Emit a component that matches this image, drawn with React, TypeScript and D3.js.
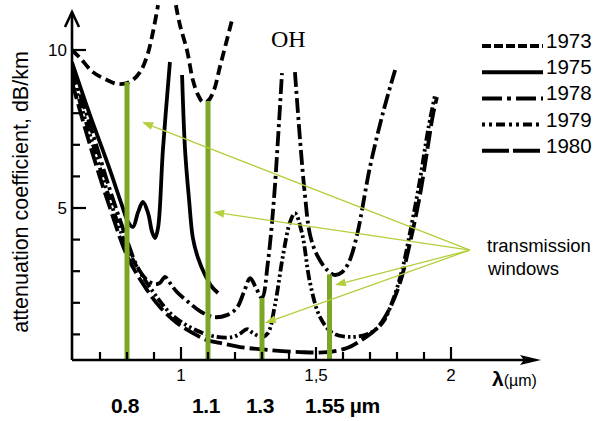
import React from "react";
import * as d3 from "d3";

type P = [number, number] | null;

// wavelength (µm), attenuation (dB/km); null = break in the drawn line
const s1973: P[] = [
  [0.596, 10.0], [0.626, 9.75], [0.674, 9.3], [0.726, 9.05], [0.767, 8.92], [0.811, 8.99],
  [0.848, 9.3], [0.878, 9.91], [0.915, 11.42], null,
  [0.981, 11.42], [0.996, 10.79], [1.022, 10.0], [1.044, 9.05], [1.063, 8.58], [1.081, 8.35],
  [1.1, 8.39], [1.122, 8.73], [1.144, 9.46], [1.167, 10.22], [1.189, 10.95],
];
const s1975: P[] = [
  [0.596, 9.62], [0.663, 7.94], [0.737, 6.2], [0.781, 5.09], [0.804, 4.56], [0.822, 4.4],
  [0.841, 4.87], [0.859, 5.19], [0.878, 4.84], [0.893, 4.24], [0.904, 4.05], [0.915, 4.37],
  [0.933, 6.84], [0.959, 9.62], null,
  [1.004, 9.21], [1.015, 6.84], [1.03, 5.25], [1.044, 4.05], [1.063, 3.42], [1.089, 2.88],
  [1.115, 2.5], [1.137, 2.31],
];
const s1978: P[] = [
  [0.596, 9.37], [0.663, 7.63], [0.737, 5.57], [0.804, 3.89], [0.837, 3.16], [0.874, 2.72],
  [0.904, 2.59], [0.922, 2.63], [0.941, 2.82], [0.959, 2.63], [0.985, 2.34], [1.022, 2.06],
  [1.07, 1.74], [1.119, 1.55], [1.17, 1.61], [1.207, 1.84], [1.233, 2.34], [1.256, 2.78],
  [1.278, 2.47], [1.3, 2.15], [1.322, 3.29], [1.344, 5.25], [1.359, 7.15], [1.374, 9.27], null,
  [1.422, 9.3], [1.441, 7.15], [1.459, 5.41], [1.478, 4.15], [1.504, 3.51], [1.541, 3.04],
  [1.57, 2.88], [1.596, 2.97], [1.622, 3.29], [1.652, 4.15], [1.7, 6.3], [1.748, 8.01], [1.793, 9.37],
];
const s1979: P[] = [
  [0.596, 9.18], [0.663, 7.31], [0.737, 5.25], [0.804, 3.67], [0.859, 2.82], [0.911, 2.18],
  [0.959, 1.68], [1.007, 1.36], [1.07, 1.08], [1.133, 0.92], [1.193, 0.92], [1.222, 1.04],
  [1.244, 1.17], [1.267, 1.04], [1.3, 0.92], [1.322, 1.04], [1.348, 1.93], [1.378, 3.51],
  [1.404, 4.56], [1.422, 4.84], [1.448, 4.21], [1.478, 2.63], [1.515, 1.55], [1.563, 1.04],
  [1.637, 0.92], [1.7, 1.04], [1.748, 1.39], [1.785, 2.09], [1.819, 3.04], [1.848, 4.21],
  [1.885, 5.89], [1.915, 7.47], [1.941, 8.58],
];
const s1980: P[] = [
  [0.596, 8.99], [0.663, 6.99], [0.737, 5.0], [0.804, 3.42], [0.874, 2.41], [0.922, 1.87],
  [0.985, 1.36], [1.044, 1.04], [1.096, 0.82], [1.144, 0.73], [1.219, 0.6], [1.319, 0.51],
  [1.441, 0.44], [1.541, 0.44], [1.615, 0.57], [1.663, 0.79], [1.726, 1.2], [1.774, 1.84],
  [1.811, 2.63], [1.848, 3.89], [1.885, 5.41], [1.915, 6.99], [1.933, 7.94], [1.948, 8.51],
];

const years = ["1973", "1975", "1978", "1979", "1980"];
const seriesList = [s1973, s1975, s1978, s1979, s1980];
const dashPlot = ["10,5", "", "15,4,3,4", "10,3,2.5,3,2.5,3", "18,5"];
const dashLegend = ["9,3", "", "20,5,4,5", "3,4,3,4,9,4", "27,4"];

const xMinorTicks = [0.7, 0.8, 0.9, 1.0, 1.1, 1.2, 1.3, 1.4, 1.5, 1.6, 1.7, 1.8, 1.9, 2.0];
const xMajor = [1.0, 1.5, 2.0];
const xLabels = ["1", "1,5", "2"];
const yTicks = [1, 2, 3, 4, 5, 6, 7, 8, 9, 10];
const yMajor = [5, 10];
const yLabels = ["5", "10"];

const windows = [0.8, 1.1, 1.3, 1.55];
const windowTops = [8.99, 8.39, 2.15, 2.9];
const windowLabels = ["0.8", "1.1", "1.3", "1.55 µm"];

const arrowFrom: [number, number] = [2.07, 3.67];
const arrowTargets: [number, number][] = [
  [0.856, 7.72], [1.119, 4.87], [1.57, 2.56], [1.311, 1.36],
];

const W = 601, H = 421;
const ox = 72, oy = 360;

export default function App() {
  const x = d3.scaleLinear().domain([0.6, 2.0]).range([73, 451]);
  const y = d3.scaleLinear().domain([0, 10]).range([366, 50]);
  const line = d3
    .line<P>()
    .defined((d) => d !== null)
    .x((d) => x((d as [number, number])[0]))
    .y((d) => y((d as [number, number])[1]))
    .curve(d3.curveCatmullRom.alpha(0.5));

  const green = "#7ca626";
  const arrowCol = "#b2cf3c";
  const sans = "'Liberation Sans', Arial, sans-serif";

  return (
    <svg
      width={W}
      height={H}
      viewBox={`0 0 ${W} ${H}`}
      style={{ position: "absolute", left: 0, top: 0, background: "#fff" }}
    >
      <defs>
        <clipPath id="plotclip">
          <rect x={ox} y={4} width={W - ox} height={oy - 4} />
        </clipPath>
      </defs>

      {/* curves */}
      <g clipPath="url(#plotclip)" fill="none" stroke="#000" strokeWidth={3.8}>
        {seriesList.map((s, i) => (
          <path key={years[i]} d={line(s) || ""} strokeDasharray={dashPlot[i] || undefined} />
        ))}
      </g>

      {/* transmission window bars */}
      {windows.map((w, i) => (
        <line key={w} x1={x(w)} x2={x(w)} y1={oy} y2={y(windowTops[i])} stroke={green} strokeWidth={5} />
      ))}

      {/* arrows */}
      {arrowTargets.map((t, i) => {
        const x0 = x(arrowFrom[0]), y0 = y(arrowFrom[1]);
        const x1 = x(t[0]), y1 = y(t[1]);
        const ang = Math.atan2(y1 - y0, x1 - x0);
        const L = 11, hw = 4;
        const bx = x1 - L * Math.cos(ang), by = y1 - L * Math.sin(ang);
        const px = -Math.sin(ang) * hw, py = Math.cos(ang) * hw;
        return (
          <g key={i}>
            <line x1={x0} y1={y0} x2={bx} y2={by} stroke={arrowCol} strokeWidth={1.3} />
            <path d={`M${x1},${y1}L${bx + px},${by + py}L${bx - px},${by - py}Z`} fill={arrowCol} />
          </g>
        );
      })}

      {/* axes */}
      <g stroke="#000" strokeWidth={2.6} fill="none">
        <line x1={ox} y1={oy} x2={ox} y2={13} />
        <path d={`M${ox - 7},${27}L${ox},${12}L${ox + 7},${27}`} strokeLinejoin="miter" />
        <line x1={ox} y1={oy} x2={525} y2={oy} />
      </g>
      <path d={`M541,${oy}L520,${oy - 5}L524,${oy}L520,${oy + 5}Z`} fill="#000" />

      <g stroke="#000" strokeWidth={2.2}>
        {xMinorTicks.map((t) => (
          <line key={t} x1={x(t)} x2={x(t)} y1={oy} y2={oy - (xMajor.includes(t) ? 13 : 8)} />
        ))}
        {yTicks.map((t) => (
          <line key={t} x1={ox} x2={ox + (yMajor.includes(t) ? 14 : 8)} y1={y(t)} y2={y(t)} />
        ))}
      </g>

      {xMajor.map((t, i) => (
        <text key={t} x={x(t)} y={381} textAnchor="middle" fontFamily={sans} fontSize={17}>
          {xLabels[i]}
        </text>
      ))}
      {yMajor.map((t, i) => (
        <text key={t} x={67} y={y(t) + 6} textAnchor="end" fontFamily={sans} fontSize={17}>
          {yLabels[i]}
        </text>
      ))}

      <text x={492} y={386} fontFamily={sans}>
        <tspan fontSize={21} fontWeight="bold">λ</tspan>
        <tspan fontSize={16}>(µm)</tspan>
      </text>

      <text
        transform={`translate(28,192) rotate(-90)`}
        textAnchor="middle"
        fontFamily={sans}
        fontSize={21.5}
      >
        attenuation coefficient, dB/km
      </text>

      {windows.map((w, i) => (
        <text
          key={w}
          x={i === 3 ? 305 : x(w) - 2}
          y={413}
          textAnchor={i === 3 ? "start" : "middle"}
          fontFamily={sans}
          fontWeight="bold"
          fontSize={21}
          letterSpacing={-0.4}
        >
          {windowLabels[i]}
        </text>
      ))}

      <text x={271} y={47} fontFamily="'Liberation Serif', 'Times New Roman', serif" fontSize={24}>
        OH
      </text>

      <text x={487} y={252} fontFamily={sans} fontSize={18.5}>transmission</text>
      <text x={488} y={275} fontFamily={sans} fontSize={18.5}>windows</text>

      {/* legend */}
      {years.map((yr, i) => {
        const ly = 46 + i * 26.2;
        return (
          <g key={yr}>
            <line
              x1={482}
              x2={543}
              y1={ly}
              y2={ly}
              stroke="#000"
              strokeWidth={4}
              strokeDasharray={dashLegend[i] || undefined}
            />
            <text x={546} y={ly + 2} fontFamily={sans} fontSize={20.5}>
              {yr}
            </text>
          </g>
        );
      })}
    </svg>
  );
}
